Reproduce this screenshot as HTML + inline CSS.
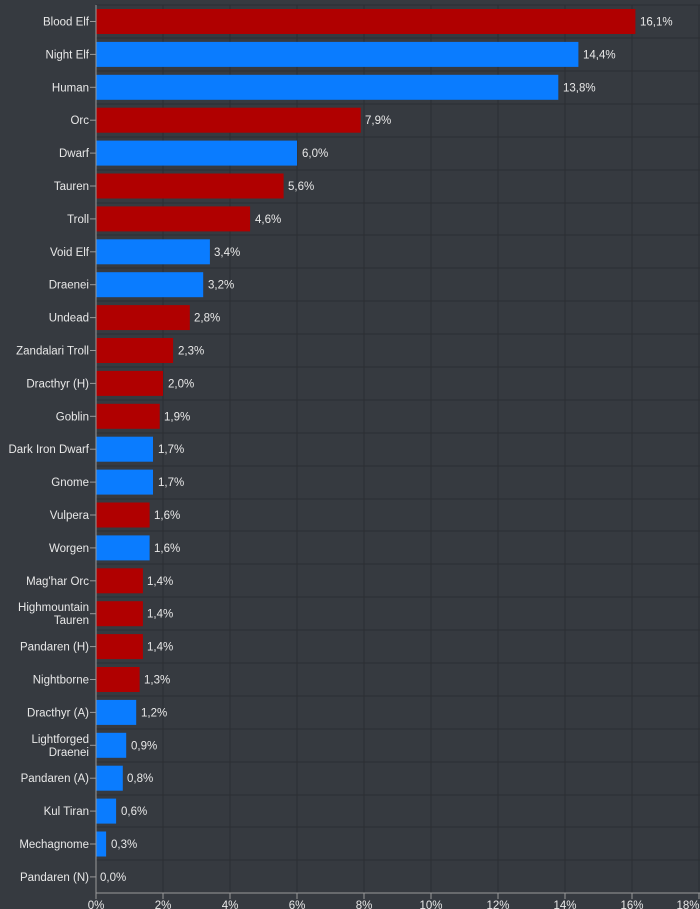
<!DOCTYPE html><html><head><meta charset="utf-8"><style>body{margin:0;background:#363a40}svg{display:block}text{font-family:"Liberation Sans",sans-serif;font-size:11.5px;fill:#e8e8e8}</style></head><body>
<svg width="700" height="909" viewBox="0 0 700 909">
<rect width="700" height="909" fill="#363a40"/>
<g stroke="#2b2e33" stroke-width="1">
<line x1="96" x2="700" y1="5" y2="5"/><line x1="96" x2="700" y1="38" y2="38"/><line x1="96" x2="700" y1="71" y2="71"/><line x1="96" x2="700" y1="104" y2="104"/><line x1="96" x2="700" y1="137" y2="137"/><line x1="96" x2="700" y1="170" y2="170"/><line x1="96" x2="700" y1="203" y2="203"/><line x1="96" x2="700" y1="235" y2="235"/><line x1="96" x2="700" y1="268" y2="268"/><line x1="96" x2="700" y1="301" y2="301"/><line x1="96" x2="700" y1="334" y2="334"/><line x1="96" x2="700" y1="367" y2="367"/><line x1="96" x2="700" y1="400" y2="400"/><line x1="96" x2="700" y1="433" y2="433"/><line x1="96" x2="700" y1="466" y2="466"/><line x1="96" x2="700" y1="499" y2="499"/><line x1="96" x2="700" y1="531" y2="531"/><line x1="96" x2="700" y1="564" y2="564"/><line x1="96" x2="700" y1="597" y2="597"/><line x1="96" x2="700" y1="630" y2="630"/><line x1="96" x2="700" y1="663" y2="663"/><line x1="96" x2="700" y1="696" y2="696"/><line x1="96" x2="700" y1="729" y2="729"/><line x1="96" x2="700" y1="762" y2="762"/><line x1="96" x2="700" y1="795" y2="795"/><line x1="96" x2="700" y1="827" y2="827"/><line x1="96" x2="700" y1="860" y2="860"/>
<line x1="163" x2="163" y1="5" y2="893"/><line x1="230" x2="230" y1="5" y2="893"/><line x1="297" x2="297" y1="5" y2="893"/><line x1="364" x2="364" y1="5" y2="893"/><line x1="431" x2="431" y1="5" y2="893"/><line x1="498" x2="498" y1="5" y2="893"/><line x1="565" x2="565" y1="5" y2="893"/><line x1="632" x2="632" y1="5" y2="893"/><line x1="699" x2="699" y1="5" y2="893"/>
</g>
<g>
<rect x="96" y="9" width="539.4" height="25" fill="#b00000"/>
<rect x="96" y="41.9" width="482.4" height="25" fill="#0a7cff"/>
<rect x="96" y="74.8" width="462.3" height="25" fill="#0a7cff"/>
<rect x="96" y="107.7" width="264.7" height="25" fill="#b00000"/>
<rect x="96" y="140.6" width="201" height="25" fill="#0a7cff"/>
<rect x="96" y="173.5" width="187.6" height="25" fill="#b00000"/>
<rect x="96" y="206.4" width="154.1" height="25" fill="#b00000"/>
<rect x="96" y="239.3" width="113.9" height="25" fill="#0a7cff"/>
<rect x="96" y="272.2" width="107.2" height="25" fill="#0a7cff"/>
<rect x="96" y="305.1" width="93.8" height="25" fill="#b00000"/>
<rect x="96" y="338" width="77.1" height="25" fill="#b00000"/>
<rect x="96" y="370.9" width="67" height="25" fill="#b00000"/>
<rect x="96" y="403.8" width="63.7" height="25" fill="#b00000"/>
<rect x="96" y="436.7" width="57" height="25" fill="#0a7cff"/>
<rect x="96" y="469.6" width="57" height="25" fill="#0a7cff"/>
<rect x="96" y="502.5" width="53.6" height="25" fill="#b00000"/>
<rect x="96" y="535.4" width="53.6" height="25" fill="#0a7cff"/>
<rect x="96" y="568.3" width="46.9" height="25" fill="#b00000"/>
<rect x="96" y="601.2" width="46.9" height="25" fill="#b00000"/>
<rect x="96" y="634.1" width="46.9" height="25" fill="#b00000"/>
<rect x="96" y="667" width="43.6" height="25" fill="#b00000"/>
<rect x="96" y="699.9" width="40.2" height="25" fill="#0a7cff"/>
<rect x="96" y="732.8" width="30.2" height="25" fill="#0a7cff"/>
<rect x="96" y="765.7" width="26.8" height="25" fill="#0a7cff"/>
<rect x="96" y="798.6" width="20.1" height="25" fill="#0a7cff"/>
<rect x="96" y="831.5" width="10.1" height="25" fill="#0a7cff"/>
</g>
<g>
<text x="640" y="25.5">16,1%</text><text x="583" y="58.4">14,4%</text><text x="563" y="91.3">13,8%</text><text x="365" y="124.2">7,9%</text><text x="302" y="157.1">6,0%</text><text x="288" y="190">5,6%</text><text x="255" y="222.9">4,6%</text><text x="214" y="255.8">3,4%</text><text x="208" y="288.7">3,2%</text><text x="194" y="321.6">2,8%</text><text x="178" y="354.5">2,3%</text><text x="168" y="387.4">2,0%</text><text x="164" y="420.3">1,9%</text><text x="158" y="453.2">1,7%</text><text x="158" y="486.1">1,7%</text><text x="154" y="519">1,6%</text><text x="154" y="551.9">1,6%</text><text x="147" y="584.8">1,4%</text><text x="147" y="617.7">1,4%</text><text x="147" y="650.6">1,4%</text><text x="144" y="683.5">1,3%</text><text x="141" y="716.4">1,2%</text><text x="131" y="749.3">0,9%</text><text x="127" y="782.2">0,8%</text><text x="121" y="815.1">0,6%</text><text x="111" y="848">0,3%</text><text x="100" y="880.9">0,0%</text>
</g>
<g text-anchor="end">
<text x="89" y="25.5">Blood Elf</text><text x="89" y="58.4">Night Elf</text><text x="89" y="91.3">Human</text><text x="89" y="124.2">Orc</text><text x="89" y="157.1">Dwarf</text><text x="89" y="190">Tauren</text><text x="89" y="222.9">Troll</text><text x="89" y="255.8">Void Elf</text><text x="89" y="288.7">Draenei</text><text x="89" y="321.6">Undead</text><text x="89" y="354.5">Zandalari Troll</text><text x="89" y="387.4">Dracthyr (H)</text><text x="89" y="420.3">Goblin</text><text x="89" y="453.2">Dark Iron Dwarf</text><text x="89" y="486.1">Gnome</text><text x="89" y="519">Vulpera</text><text x="89" y="551.9">Worgen</text><text x="89" y="584.8">Mag'har Orc</text><text x="89" y="611">Highmountain</text><text x="89" y="624">Tauren</text><text x="89" y="650.6">Pandaren (H)</text><text x="89" y="683.5">Nightborne</text><text x="89" y="716.4">Dracthyr (A)</text><text x="89" y="743">Lightforged</text><text x="89" y="756">Draenei</text><text x="89" y="782.2">Pandaren (A)</text><text x="89" y="815.1">Kul Tiran</text><text x="89" y="848">Mechagnome</text><text x="89" y="880.9">Pandaren (N)</text>
</g>
<g stroke="#9a9a9a" stroke-width="1">
<line x1="96" x2="96" y1="5" y2="893"/><line x1="96" x2="700" y1="893" y2="893"/>
<line x1="90" x2="96" y1="21.5" y2="21.5"/><line x1="90" x2="96" y1="54.4" y2="54.4"/><line x1="90" x2="96" y1="87.3" y2="87.3"/><line x1="90" x2="96" y1="120.2" y2="120.2"/><line x1="90" x2="96" y1="153.1" y2="153.1"/><line x1="90" x2="96" y1="186" y2="186"/><line x1="90" x2="96" y1="218.9" y2="218.9"/><line x1="90" x2="96" y1="251.8" y2="251.8"/><line x1="90" x2="96" y1="284.7" y2="284.7"/><line x1="90" x2="96" y1="317.6" y2="317.6"/><line x1="90" x2="96" y1="350.5" y2="350.5"/><line x1="90" x2="96" y1="383.4" y2="383.4"/><line x1="90" x2="96" y1="416.3" y2="416.3"/><line x1="90" x2="96" y1="449.2" y2="449.2"/><line x1="90" x2="96" y1="482.1" y2="482.1"/><line x1="90" x2="96" y1="515" y2="515"/><line x1="90" x2="96" y1="547.9" y2="547.9"/><line x1="90" x2="96" y1="580.8" y2="580.8"/><line x1="90" x2="96" y1="613.7" y2="613.7"/><line x1="90" x2="96" y1="646.6" y2="646.6"/><line x1="90" x2="96" y1="679.5" y2="679.5"/><line x1="90" x2="96" y1="712.4" y2="712.4"/><line x1="90" x2="96" y1="745.3" y2="745.3"/><line x1="90" x2="96" y1="778.2" y2="778.2"/><line x1="90" x2="96" y1="811.1" y2="811.1"/><line x1="90" x2="96" y1="844" y2="844"/><line x1="90" x2="96" y1="876.9" y2="876.9"/>
<line x1="96" x2="96" y1="893" y2="899"/><line x1="163" x2="163" y1="893" y2="899"/><line x1="230" x2="230" y1="893" y2="899"/><line x1="297" x2="297" y1="893" y2="899"/><line x1="364" x2="364" y1="893" y2="899"/><line x1="431" x2="431" y1="893" y2="899"/><line x1="498" x2="498" y1="893" y2="899"/><line x1="565" x2="565" y1="893" y2="899"/><line x1="632" x2="632" y1="893" y2="899"/><line x1="699" x2="699" y1="893" y2="899"/>
</g>
<g text-anchor="middle">
<text x="96" y="909">0%</text><text x="163" y="909">2%</text><text x="230" y="909">4%</text><text x="297" y="909">6%</text><text x="364" y="909">8%</text><text x="431" y="909">10%</text><text x="498" y="909">12%</text><text x="565" y="909">14%</text><text x="632" y="909">16%</text><text x="688" y="909">18%</text>
</g>
</svg>
</body></html>
